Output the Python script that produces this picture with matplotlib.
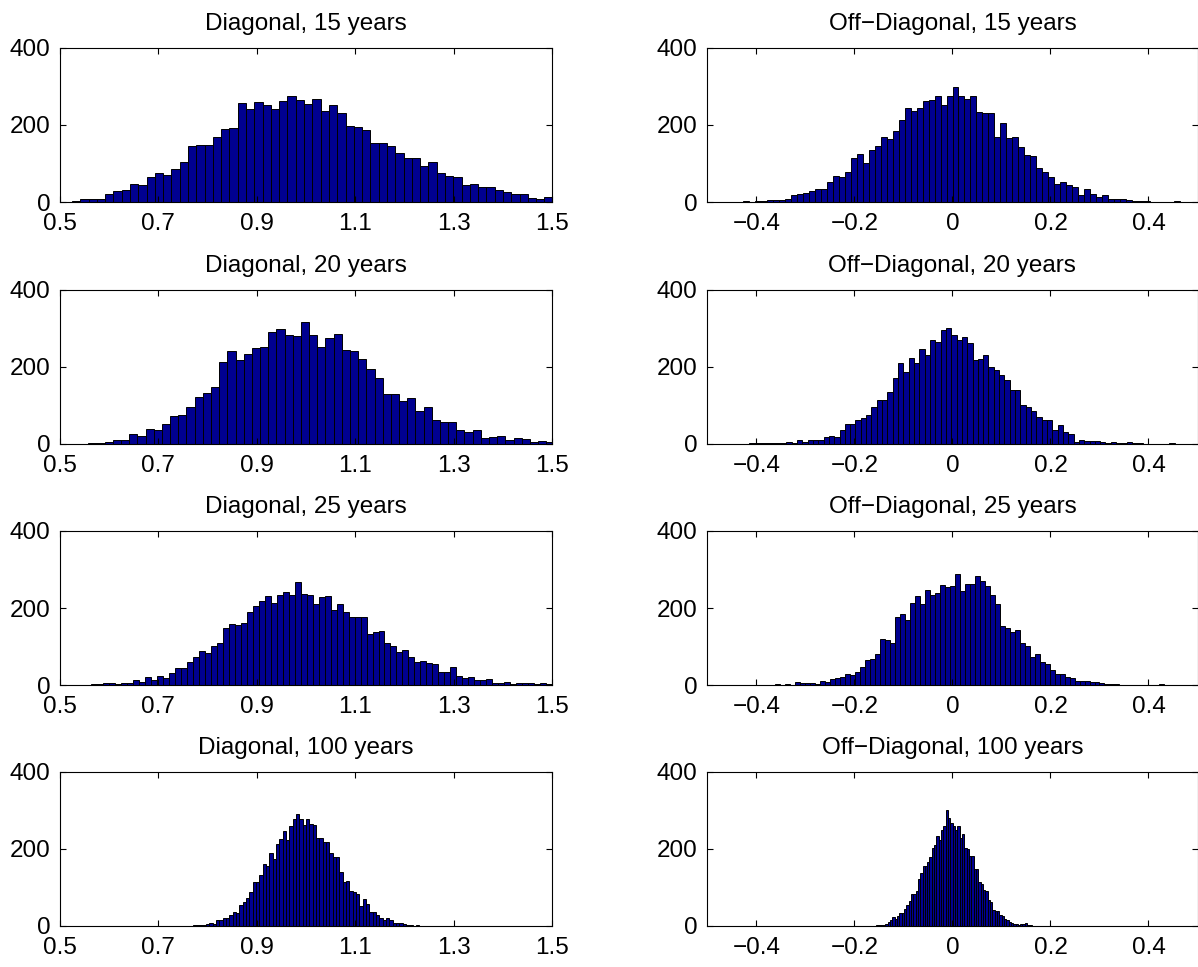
import numpy as np
import matplotlib.pyplot as plt

plt.rcParams['font.family'] = ['Liberation Sans', 'DejaVu Sans']
plt.rcParams['font.size'] = 17.5

years = [15, 20, 25, 100]
bar_color = '#000090'

# histogram bins: first edge, bin width, counts
diag_start = [0.4905, 0.5575, 0.5629, 0.7358]
diag_width = [0.01685, 0.01662, 0.012175, 0.006775]

diag_15 = [1, 1, 2, 9, 9, 8, 21, 28, 30, 47,
           43, 66, 75, 70, 85, 103, 146, 149, 149, 170,
           190, 192, 257, 241, 259, 253, 241, 262, 274, 265,
           255, 267, 236, 253, 230, 197, 196, 186, 153, 153,
           146, 126, 114, 113, 94, 103, 75, 67, 66, 44,
           48, 38, 40, 31, 27, 20, 21, 11, 9, 14]
diag_20 = [2, 3, 6, 10, 10, 27, 20, 38, 37, 52,
           72, 76, 95, 122, 133, 148, 213, 242, 217, 234,
           248, 251, 290, 298, 284, 280, 316, 283, 252, 275,
           286, 245, 242, 221, 194, 172, 131, 131, 112, 120,
           85, 97, 63, 57, 58, 35, 30, 35, 15, 17,
           21, 10, 15, 14, 4, 8, 4]
diag_25 = [3, 2, 5, 6, 2, 5, 5, 13, 8, 22,
           13, 23, 18, 32, 43, 45, 61, 74, 89, 82,
           101, 109, 148, 158, 157, 160, 189, 204, 218, 232,
           213, 233, 242, 234, 268, 236, 234, 210, 229, 232,
           195, 210, 190, 176, 176, 176, 133, 137, 140, 109,
           102, 87, 90, 73, 59, 62, 56, 54, 34, 35,
           48, 24, 17, 21, 12, 12, 15, 6, 6, 9,
           3, 5, 4, 4, 3, 5, 2]
diag_100 = [1, 0, 1, 1, 1, 2, 2, 3, 2, 4,
            9, 4, 15, 15, 21, 22, 28, 37, 34, 54,
            63, 72, 89, 114, 114, 132, 161, 155, 190, 175,
            214, 225, 247, 223, 259, 277, 291, 278, 262, 277,
            264, 261, 229, 228, 217, 217, 190, 179, 179, 140,
            114, 117, 91, 89, 84, 51, 70, 58, 36, 36,
            29, 20, 15, 20, 15, 9, 8, 9, 4, 3,
            2, 1, 2, 1, 1, 0, 1, 1, 0, 1, 1, 0, 1]

off_start = [-0.4268, -0.4147, -0.3712, -0.1606]
off_width = [0.0122, 0.01085, 0.01017, 0.004743]

off_15 = [2, 1, 3, 2,
          4, 5, 6, 8, 18, 21, 23, 28, 34, 34,
          53, 68, 64, 77, 115, 124, 100, 134, 146, 170,
          164, 184, 213, 245, 236, 245, 263, 264, 276, 253,
          276, 298, 274, 268, 274, 235, 230, 232, 170, 204,
          167, 170, 142, 121, 120, 88, 77, 65, 46, 52,
          43, 39, 19, 33, 21, 14, 18, 7, 9, 7,
          5, 3, 2, 2, 1, 1, 1, 1, 3, 1]
off_20 = [2, 3, 3, 2, 2, 3, 3, 4, 3,
          10, 6, 11, 11, 9, 17, 20, 18, 35, 52,
          52, 63, 67, 75, 96, 115, 114, 136, 170, 209,
          188, 224, 209, 247, 230, 271, 266, 295, 301, 282,
          271, 279, 261, 217, 220, 230, 201, 192, 179, 167,
          141, 141, 101, 95, 86, 70, 62, 62, 35, 48,
          31, 26, 5, 9, 8, 8, 8, 6, 3, 5,
          3, 2, 4, 2, 2, 1, 1, 1, 1, 1, 3]
off_25 = [1, 2, 1, 2, 1,
          7, 4, 6, 5, 3, 10, 7, 16, 19, 20,
          29, 25, 35, 46, 64, 68, 80, 120, 118, 110,
          177, 184, 168, 213, 231, 211, 246, 235, 239, 261,
          255, 256, 289, 244, 263, 263, 283, 271, 256, 234,
          211, 154, 148, 137, 144, 109, 102, 74, 81, 61,
          55, 40, 29, 29, 21, 19, 11, 11, 10, 9,
          7, 4, 3, 3, 2, 1, 1, 1, 1, 1, 1, 1, 1, 2]
off_100 = [1, 2, 2, 3, 3, 4,
           10, 16, 24, 18, 27, 34, 34, 44, 55, 66,
           82, 83, 92, 121, 138, 157, 157, 167, 179, 203,
           211, 233, 224, 249, 259, 302, 281, 268, 259, 250,
           260, 228, 239, 202, 200, 183, 182, 149, 149, 115,
           110, 93, 90, 67, 63, 41, 40, 38, 28, 26,
           18, 15, 11, 8, 5, 6, 3, 4, 5, 8, 2, 2, 1, 1, 1]

diag_counts = [diag_15, diag_20, diag_25, diag_100]
off_counts = [off_15, off_20, off_25, off_100]

fig = plt.figure(figsize=(11.98, 9.67), dpi=100)

bottoms = [0.7911, 0.5409, 0.2916, 0.0424]
h = 0.1593


def draw(ax, start, width, counts, title):
    counts = np.array(counts)
    lefts = start + width * np.arange(len(counts))
    ax.bar(lefts, counts, width=width, align='edge', color=bar_color,
           edgecolor='black', linewidth=0.7)
    ax.set_ylim(0, 400)
    ax.set_yticks([0, 200, 400])
    ax.set_title(title, fontsize=17.5, pad=13)
    ax.tick_params(direction='in', top=True, right=True, length=4, width=0.8)
    ax.tick_params(axis='y', pad=7)
    ax.tick_params(axis='x', pad=8)
    for s in ax.spines.values():
        s.set_linewidth(0.8)


for i, yr in enumerate(years):
    ax = fig.add_axes([0.0501, bottoms[i], 0.4107, h])
    draw(ax, diag_start[i], diag_width[i], diag_counts[i], f'Diagonal, {yr} years')
    ax.set_xlim(0.5, 1.5)
    ax.set_xticks([0.5, 0.7, 0.9, 1.1, 1.3, 1.5])
    ax.set_xticklabels(['0.5', '0.7', '0.9', '1.1', '1.3', '1.5'])

    ax = fig.add_axes([0.5904, bottoms[i], 0.4092, h])
    draw(ax, off_start[i], off_width[i], off_counts[i], f'Off\u2212Diagonal, {yr} years')
    ax.set_xlim(-0.5, 0.5)
    ax.set_xticks([-0.4, -0.2, 0, 0.2, 0.4])
    ax.set_xticklabels(['\u22120.4', '\u22120.2', '0', '0.2', '0.4'])

fig.savefig('out.png', dpi=100)
